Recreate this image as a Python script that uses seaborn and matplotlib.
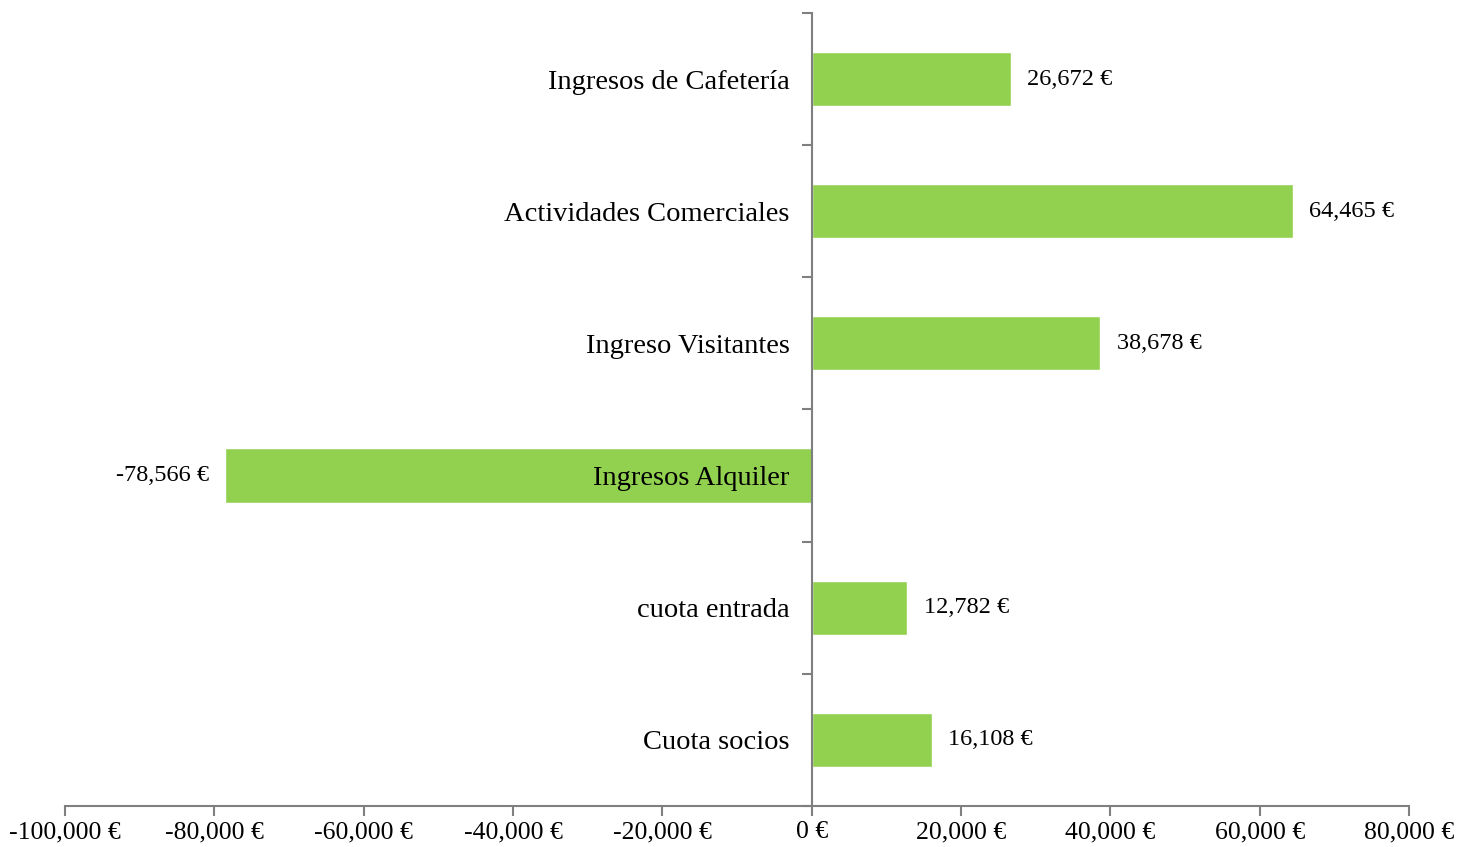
import numpy as np
import pandas as pd
import seaborn as sns
import matplotlib.pyplot as plt
from matplotlib.ticker import FuncFormatter, FixedLocator

# data (top to bottom)
categories = ['Ingresos de Cafetería', 'Actividades Comerciales', 'Ingreso Visitantes',
              'Ingresos Alquiler', 'cuota entrada', 'Cuota socios']
values = [26672, 64465, 38678, -78566, 12782, 16108]
x_ticks = [-100000, -80000, -60000, -40000, -20000, 0, 20000, 40000, 60000, 80000]

df = pd.DataFrame({'categoria': categories, 'valor': values})

sns.set_style('white')
plt.rcParams['font.family'] = ['Liberation Serif', 'DejaVu Serif']
plt.rcParams['text.color'] = 'black'

fig = plt.figure(figsize=(14.58, 8.47), dpi=100)
ax = fig.add_axes([0.0446, 0.0484, 0.9218, 0.9363])

sns.barplot(data=df, x='valor', y='categoria', orient='h', color='#92D050',
            saturation=1, width=0.41, ax=ax)

ax.set_xlim(-100000, 80000)
ax.set_ylim(len(categories) - 0.5, -0.5)
ax.set_xticks(x_ticks)
ax.xaxis.set_major_formatter(FuncFormatter(lambda v, p: f'{v:,.0f} €'))
ax.set_xlabel('')
ax.set_ylabel('')
ax.set_axisbelow(False)

# axes styling
for s in ['top', 'right']:
    ax.spines[s].set_visible(False)
ax.spines['left'].set_position(('data', 0))
for s in ['left', 'bottom']:
    ax.spines[s].set_color('#7f7f7f')
    ax.spines[s].set_linewidth(1.5)

ax.tick_params(axis='x', direction='out', length=7, width=1.5, color='#7f7f7f',
               labelsize=18.5, labelcolor='black', pad=4, bottom=True)
ax.tick_params(axis='y', which='major', length=0, pad=16, labelsize=20.5,
               labelcolor='black', left=True)
ax.yaxis.set_minor_locator(FixedLocator(np.arange(-0.5, len(categories), 1)))
ax.tick_params(axis='y', which='minor', direction='out', length=7, width=1.5,
               color='#7f7f7f', left=True)

# value labels
for i, v in enumerate(values):
    off = 2200 if v > 0 else -2200
    ax.text(v + off, i, f'{v:,.0f} €', va='center', color='black',
            ha='left' if v > 0 else 'right', fontsize=17.5)

fig.savefig('out.png', dpi=100)
